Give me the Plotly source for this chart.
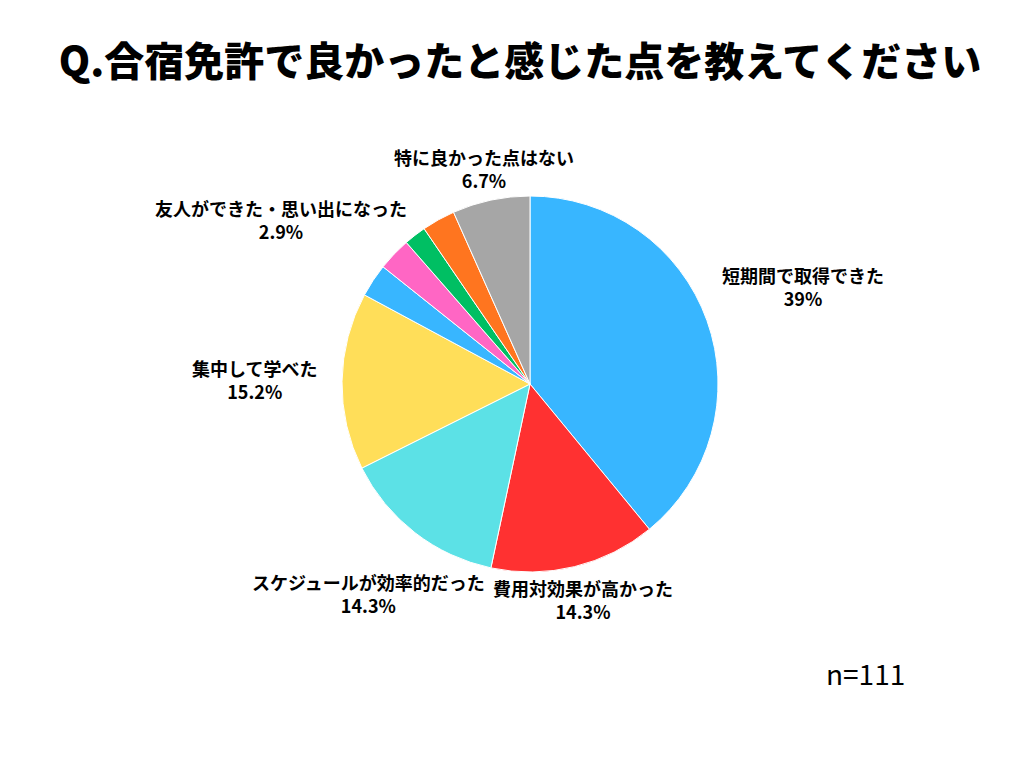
import math
import plotly.graph_objects as go

# 回答データ（n=111、割合は表示値に合わせた件数）
labels = [
    "短期間で取得できた",
    "費用対効果が高かった",
    "スケジュールが効率的だった",
    "集中して学べた",
    "友人ができた・思い出になった",
    "その他②",
    "その他③",
    "その他④",
    "特に良かった点はない",
]
counts = [41, 15, 15, 16, 3, 3, 2, 3, 7]
show_label = [True, True, True, True, True, False, False, False, True]
colors = ["#38B6FF", "#FF3131", "#5CE1E6", "#FFDE59", "#38B6FF",
          "#FF66C4", "#00BF63", "#FF751F", "#A6A6A6"]

W, H = 1024, 768
CX, CY, R = 522, 376, 188   # 円の中心と半径（px、図の左上基準）
LA, LB, LP = 276, 216, 4    # ラベルを並べる超楕円（横半径・縦半径・次数）

total = sum(counts)


def pct_text(v):
    p = round(v / total * 100, 1)
    s = f"{p:.1f}".rstrip("0").rstrip(".")
    return s + "%"


fig = go.Figure(go.Pie(
    labels=labels,
    values=counts,
    textinfo="none",
    sort=False,
    direction="clockwise",
    rotation=0,
    marker=dict(colors=colors, line=dict(color="white", width=1)),
    domain=dict(x=[(CX - R) / W, (CX + R) / W], y=[1 - (CY + R) / H, 1 - (CY - R) / H]),
    showlegend=False,
    hoverinfo="label+percent",
))

# ラベル：各扇形の中央角の方向、円を囲む超楕円の上に配置
annotations = []
cum = 0
for lab, v, show in zip(labels, counts, show_label):
    mid = (cum + v / 2) / total * 2 * math.pi
    cum += v
    if not show:
        continue
    s, c = math.sin(mid), math.cos(mid)
    rho = 1 / ((abs(s) / LA) ** LP + (abs(c) / LB) ** LP) ** (1 / LP)
    x = CX + rho * s
    y = CY - rho * c
    annotations.append(dict(
        text=f"{lab}<br>{pct_text(v)}", x=x / W, y=1 - y / H,
        xref="paper", yref="paper", xanchor="center", yanchor="middle",
        showarrow=False, align="center",
        font=dict(family="Noto Sans CJK JP", size=18, color="#000000", weight="bold"),
    ))

annotations.append(dict(
    text="n=111", x=857 / W, y=1 - 665 / H, xref="paper", yref="paper",
    xanchor="center", yanchor="middle", showarrow=False,
    font=dict(family="Noto Sans CJK JP", size=28, color="#000000"),
))

fig.update_layout(
    width=W,
    height=H,
    margin=dict(l=0, r=0, t=0, b=0),
    paper_bgcolor="white",
    plot_bgcolor="white",
    font=dict(family="Noto Sans CJK JP"),
    title=dict(
        text="Q.合宿免許で良かったと感じた点を教えてください",
        x=0.5, xanchor="center", y=1 - 54 / H, yanchor="middle",
        font=dict(family="Noto Sans CJK JP", size=40, color="#000000", weight=900),
    ),
    annotations=annotations,
)

fig.write_html("out.html")
